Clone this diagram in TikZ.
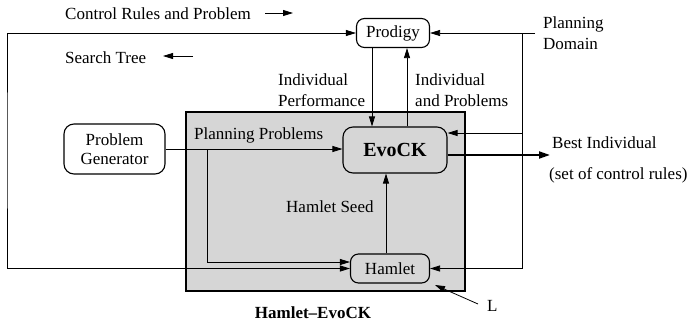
\documentclass[tikz,border=0pt]{standalone}
\usepackage{fontspec}
\setmainfont{Liberation Serif}
\usetikzlibrary{arrows.meta}

\begin{document}
\begin{tikzpicture}[x=1pt,y=-1pt,font=\fontsize{17}{21}\selectfont,
		module/.style={draw, rounded corners=8pt, line width=1.1pt, inner sep=0pt},
		flow/.style={-{Triangle[length=10pt,width=6pt]}, line width=0.8pt},
		flowboth/.style={{Triangle[length=10pt,width=6pt]}-{Triangle[length=10pt,width=6pt]}, line width=0.8pt},
		txt/.style={inner sep=0pt, anchor=west, align=left}]
		
		\useasboundingbox (0,0) rectangle (691,322);
		
		% shaded system box
		\draw[line width=1.5pt, fill=black!16] (186,112) rectangle (465,291);
		\node[font=\fontsize{17}{21}\selectfont\bfseries] (nodeTitle) at (313,313){Hamlet--EvoCK};
		
		\node[module, minimum width=73pt, minimum height=29pt] (nodeProdigy) at (393,33){Prodigy};
		\node[module, rounded corners=10pt, minimum width=104pt, minimum height=46pt, font=\fontsize{20}{24}\selectfont\bfseries] (nodeEvo) at (395,150){EvoCK};
		\node[module, minimum width=79pt, minimum height=29pt] (nodeHamlet) at (390,268.5){Hamlet};
		\node[module, rounded corners=10pt, minimum width=101pt, minimum height=50pt, align=center, font=\fontsize{17}{19}\selectfont] (nodeGen) at (114.5,149){Problem\\Generator};
		
		%%%%% Texts %%%%%%
		\node[txt] (txtCtrl) at (65,14){Control Rules and Problem};
		\node[txt] (txtTree) at (65,58){Search Tree};
		\node[txt] (txtPerf) at (278,90){Individual\\Performance};
		\node[txt] (txtIndiv) at (415,90){Individual\\and Problems};
		\node[txt] (txtDomain) at (543,33){Planning\\Domain};
		\node[txt] (txtProbs) at (194,135){Planning Problems};
		\node[txt] (txtSeed) at (286,207){Hamlet Seed};
		\node[txt] (txtBest) at (552,143){Best Individual};
		\node[txt] (txtRules) at (549,175){(set of control rules)};
		\node[txt] (txtL) at (487,306){L};
		
		\coordinate (ctrlA) at (265,13);
		\coordinate (ctrlB) at (293,13);
		\coordinate (treeA) at (193,56);
		\coordinate (treeB) at (163,56);
		\coordinate (domain) at (535,33);
		\coordinate (domainDown) at (522,33);
		\coordinate (domainEvo) at (522,133);
		\coordinate (best) at (550,155);
		\coordinate (lTail) at (478,304);
		\coordinate (lHead) at (435,285);
		
		%%%%% Arrows %%%%%%
		\draw[flow] (ctrlA)--(ctrlB);
		\draw[flow] (treeA)--(treeB);
		\draw[flowboth] (nodeProdigy.west) -| (7,150) |- (nodeHamlet.west);
		\draw[flow] (372,0 |- nodeProdigy.south)--(372,0 |- nodeEvo.north);
		\draw[flow] (407,0 |- nodeEvo.north)--(407,0 |- nodeProdigy.south);
		\draw[flow] (domain)--(nodeProdigy.east);
		\draw[flow] (domainDown) |- (nodeHamlet.east);
		\draw[flow] (domainEvo)--(domainEvo -| nodeEvo.east);
		\draw[flow] (nodeGen.east)--(nodeGen.east -| nodeEvo.west);
		\draw[flow] (207,0 |- nodeGen.east) |- ([yshift=6.5pt]nodeHamlet.west);
		\draw[flow] (386,0 |- nodeHamlet.north)--(386,0 |- nodeEvo.south);
		\draw[-{Triangle[length=11pt,width=7pt]}, line width=2pt] ([yshift=-5pt]nodeEvo.east)--(best);
		\draw[flow] (lTail)--(lHead);
		
		\end{tikzpicture}
\end{document}
